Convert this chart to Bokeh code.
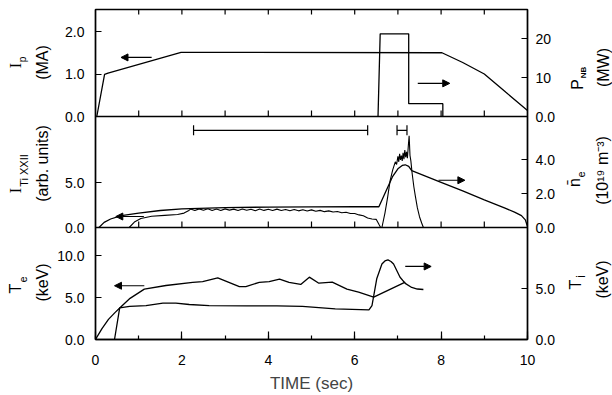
import math
from bokeh.plotting import figure
from bokeh.layouts import row
from bokeh.core.properties import value
from bokeh.models import (Range1d, LinearAxis, FixedTicker, SingleIntervalTicker,
                          Arrow, NormalHead, Whisker, TeeHead, ColumnDataSource, Span)
from bokeh.embed import file_html
from bokeh.resources import INLINE

# ---------------- data ----------------
# Panel 1: plasma current Ip (MA, left) and neutral-beam power P_NB (MW, right)
IP_T = [0.03, 0.21, 0.29, 1.98, 8.02, 8.5, 9.0, 9.13, 9.5, 10.0]
IP_MA = [0.0, 0.99, 1.02, 1.51, 1.50, 1.27, 1.00, 0.89, 0.57, 0.14]
PNB_T = [6.54, 6.59, 7.25, 7.25, 8.04, 8.04]
PNB_MW = [0.0, 21.2, 21.2, 3.3, 3.3, 0.0]

# Panel 2: Ti XXII intensity (arb. units, left) and line density (1e19 m^-3, right)
ITI_T = [0.00, 0.78, 0.90, 1.05, 1.30, 1.60, 1.90, 2.05, 2.15,
         2.2, 2.3, 2.4, 2.5, 2.6, 2.7, 2.8, 2.9, 3.0, 3.1,
         3.2, 3.3, 3.4, 3.5, 3.6, 3.7, 3.8, 3.9, 4.0, 4.1,
         4.2, 4.3, 4.4, 4.5, 4.6, 4.7, 4.8, 4.9, 5.0, 5.1,
         5.2, 5.3, 5.4, 5.5, 5.6, 5.7, 5.8, 5.9, 6.0, 6.1,
         6.2, 6.3,
         6.40, 6.50, 6.56, 6.60, 6.63, 6.70, 6.76, 6.82, 6.88, 6.94,
         6.97, 7.00, 7.02, 7.04, 7.06, 7.08, 7.10, 7.12, 7.14, 7.16,
         7.18, 7.20, 7.22, 7.24, 7.26, 7.28, 7.30, 7.33, 7.37, 7.40,
         7.45, 7.50, 7.55, 7.59]
ITI = [0.0, 0.0, 0.6, 1.0, 1.25, 1.35, 1.45, 1.6, 1.85,
       2.05, 1.88, 2.07, 1.92, 2.08, 1.90, 2.05, 1.89, 2.07, 1.93,
       2.04, 1.88, 2.06, 1.91, 2.03, 1.87, 2.05, 1.90, 2.02, 1.88,
       2.04, 1.89, 2.01, 1.86, 2.00, 1.85, 1.98, 1.84, 1.96, 1.80,
       1.90, 1.76, 1.85, 1.72, 1.78, 1.64, 1.70, 1.56, 1.55, 1.40,
       1.30, 1.05,
       0.95, 0.90, 0.35, 0.0, 0.0, 1.6, 3.3, 5.2, 6.4, 7.3,
       7.0, 7.9, 7.3, 8.2, 7.5, 8.0, 7.4, 8.3, 7.6, 8.6,
       7.8, 8.4, 7.7, 9.0, 10.2, 8.0, 7.4, 6.0, 4.5, 3.6,
       2.2, 1.2, 0.5, 0.0]
NE_T = [0.08, 0.20, 0.35, 0.60, 1.00, 1.50, 2.00, 3.00, 4.00, 5.00, 6.00, 6.56,
        6.88, 7.00, 7.10, 7.17, 7.25, 7.32, 8.00, 8.50, 9.00, 9.48, 9.70, 9.86, 9.95, 10.0]
NE = [0.0, 0.30, 0.50, 0.70, 0.85, 1.00, 1.10, 1.17, 1.20, 1.21, 1.22, 1.22,
      3.01, 3.45, 3.65, 3.69, 3.60, 3.34, 2.66, 2.15, 1.63, 1.14, 0.90, 0.70, 0.45, 0.05]
# measurement time windows drawn at the top of panel 2
WIN_START = [2.27, 6.98]
WIN_END = [6.30, 7.21]
WIN_LEVEL = [10.8, 10.8]

# Panel 3: electron temperature Te (keV, left) and ion temperature Ti (keV, right)
TE_T = [0.0, 0.15, 0.30, 0.45, 0.56, 0.80, 1.13, 1.63, 2.25, 2.48, 2.83, 3.33, 3.48,
        3.79, 4.02, 4.26, 4.48, 4.75, 4.95, 5.17, 5.48, 5.82, 6.09, 6.44, 7.17]
TE = [0.0, 1.3, 2.4, 3.2, 3.76, 4.9, 6.0, 6.43, 6.8, 6.9, 7.34, 6.3, 6.3,
      6.8, 6.9, 7.2, 6.8, 6.55, 7.42, 6.7, 6.83, 6.0, 5.63, 5.04, 6.83]
TION_T = [0.44, 0.56, 0.79, 1.17, 1.56, 1.86, 2.17, 2.63, 3.50, 4.20, 4.79, 5.55, 6.33,
          6.40, 6.51, 6.63, 6.70, 6.77, 6.84, 6.90, 7.05, 7.17, 7.32, 7.45, 7.59]
TION = [0.0, 3.1, 3.24, 3.33, 3.56, 3.56, 3.43, 3.33, 3.30, 3.30, 3.24, 3.00, 2.90,
        3.33, 5.95, 7.40, 7.70, 7.80, 7.65, 7.40, 6.10, 5.50, 5.10, 4.95, 4.90]

# axis ticks and labels
TIME_TICKS_MINOR = [1, 2, 3, 4, 5, 6, 7, 8, 9]
P1L_TICKS, P1L_LABELS = [0, 1, 2], ["0.0", "1.0", "2.0"]
P1R_TICKS, P1R_LABELS = [0, 10, 20], ["0.0", "10", "20"]
P2L_TICKS, P2L_LABELS = [0, 5], ["0.0", "5.0"]
P2R_TICKS, P2R_LABELS = [0, 2, 4], ["0.0", "2.0", "4.0"]
P3L_TICKS, P3L_LABELS = [0, 5, 10], ["0.0", "5.0", "10.0"]
P3R_TICKS, P3R_LABELS = [0, 5], ["0.0", "5.0"]

# ---------------- layout: three stacked panels in one frame ----------------
FONT = "Liberation Sans"
SERIF = "Liberation Serif"
STACK_TOP = 330                      # stack units (bottom-up)
BASE = {"p1": 223, "p2": 112, "p3": 0}
SCALE = {"p1l": 42.5, "p1r": 3.9, "p2l": 9.0, "p2r": 17.0, "p3l": 8.4, "p3r": 10.2}
TOP_B, BOT_B = 9, 56
TOTAL_H = 395


def panel_range(name):
    b = BASE[name[:2]]
    k = SCALE[name]
    return Range1d(start=-b / k, end=(STACK_TOP - b) / k)


def stack_pos(name, v):
    return BASE[name[:2]] + v * SCALE[name]


stack = Range1d(0, STACK_TOP)

p = figure(width=506, height=TOTAL_H, x_range=Range1d(0, 10), y_range=stack,
           output_backend="svg", toolbar_location=None,
           min_border_left=39, min_border_right=33, min_border_top=TOP_B, min_border_bottom=BOT_B)
p.extra_y_ranges = {n: panel_range(n) for n in SCALE}
p.grid.visible = False
p.background_fill_color = "white"
p.border_fill_color = "white"
p.outline_line_color = "black"
p.outline_line_width = 1.4

# bottom axis
xa = p.xaxis[0]
xa.ticker = SingleIntervalTicker(interval=2, num_minor_ticks=2)
xa.major_tick_in = 8
xa.major_tick_out = 0
xa.minor_tick_in = 4
xa.minor_tick_out = 0
xa.axis_line_width = 1.4
xa.major_tick_line_width = 1.2
xa.minor_tick_line_width = 1.2
xa.major_label_text_font = FONT
xa.major_label_text_font_size = "14px"
xa.major_label_text_color = "black"
xa.major_label_standoff = 15
xa.axis_label = "TIME (sec)"
xa.axis_label_text_font = FONT
xa.axis_label_text_font_size = "17px"
xa.axis_label_text_font_style = "normal"
xa.axis_label_standoff = 6


def style_y(ax, ticks, labels, standoff):
    ax.ticker = FixedTicker(ticks=ticks)
    ax.major_label_overrides = dict(zip(ticks, labels))
    ax.major_tick_in = 6
    ax.major_tick_out = 0
    ax.minor_tick_in = 0
    ax.minor_tick_out = 0
    ax.axis_line_width = 1.4
    ax.major_tick_line_width = 1.2
    ax.major_label_text_font = FONT
    ax.major_label_text_font_size = "14px"
    ax.major_label_text_color = "black"
    ax.major_label_standoff = standoff


left_ticks = ([stack_pos("p3l", v) for v in P3L_TICKS] + [stack_pos("p2l", v) for v in P2L_TICKS]
              + [stack_pos("p1l", v) for v in P1L_TICKS])
left_labels = P3L_LABELS + P2L_LABELS + P1L_LABELS
right_ticks = ([stack_pos("p3r", v) for v in P3R_TICKS] + [stack_pos("p2r", v) for v in P2R_TICKS]
               + [stack_pos("p1r", v) for v in P1R_TICKS])
right_labels = P3R_LABELS + P2R_LABELS + P1R_LABELS

style_y(p.yaxis[0], left_ticks, left_labels, 11)
ra = LinearAxis()
style_y(ra, right_ticks, right_labels, 8)
p.add_layout(ra, "right")

# panel separators and their ticks
for b in (BASE["p2"], BASE["p1"]):
    p.add_layout(Span(location=b, dimension="width", line_color="black", line_width=1.4))
    p.segment(x0=TIME_TICKS_MINOR, y0=[b] * 9, x1=TIME_TICKS_MINOR, y1=[b + 6] * 9,
              line_color="black", line_width=1.2)
p.segment(x0=TIME_TICKS_MINOR, y0=[STACK_TOP] * 9, x1=TIME_TICKS_MINOR, y1=[STACK_TOP - 5] * 9,
          line_color="black", line_width=1.2)

# ---------------- curves ----------------
LW = 1.3
p.line(IP_T, IP_MA, y_range_name="p1l", line_color="black", line_width=LW)
p.line(PNB_T, PNB_MW, y_range_name="p1r", line_color="black", line_width=LW)
p.line(ITI_T, ITI, y_range_name="p2l", line_color="black", line_width=1.1)
p.line(NE_T, NE, y_range_name="p2r", line_color="black", line_width=LW)
p.line(TE_T, TE, y_range_name="p3l", line_color="black", line_width=LW)
p.line(TION_T, TION, y_range_name="p3r", line_color="black", line_width=LW)

win_src = ColumnDataSource(dict(base=WIN_LEVEL, lower=WIN_START, upper=WIN_END))
p.add_layout(Whisker(source=win_src, base="base", lower="lower", upper="upper",
                     dimension="width", y_range_name="p2l", line_color="black", line_width=1.2,
                     lower_head=TeeHead(size=10, line_width=1.2, line_color="black"),
                     upper_head=TeeHead(size=10, line_width=1.2, line_color="black")))

# arrows: which axis each curve belongs to
ARROWS = [("p1l", 1.30, 0.59, 1.39), ("p1r", 7.46, 8.20, 8.5),
          ("p2l", 1.12, 0.47, 1.22), ("p2r", 7.94, 8.55, 2.78),
          ("p3l", 1.13, 0.44, 6.4), ("p3r", 7.17, 7.77, 7.16)]
for rn, t0, t1, yv in ARROWS:
    p.add_layout(Arrow(end=NormalHead(size=7, fill_color="black", line_color="black", line_width=1),
                       x_start=t0, y_start=yv, x_end=t1, y_end=yv, y_range_name=rn,
                       line_color="black", line_width=1.2))


# ---------------- side strips carrying the rotated axis titles ----------------
def side_fig(w):
    f = figure(width=w, height=TOTAL_H, x_range=Range1d(0, w), y_range=stack,
               output_backend="svg", toolbar_location=None,
               x_axis_location=None, y_axis_location=None,
               min_border_left=0, min_border_right=0, min_border_top=TOP_B, min_border_bottom=BOT_B)
    f.grid.visible = False
    f.outline_line_color = None
    f.background_fill_color = "white"
    f.border_fill_color = "white"
    return f


def vtext(f, txt, x, y, size="16px", style="normal", font=FONT):
    f.text(x=[x], y=[y], text=[txt], angle=math.pi / 2, text_align="center",
           text_baseline="middle", text_font=value(font), text_font_size=size,
           text_font_style=style, text_color="black")


lf = side_fig(54)
vtext(lf, "I", 15, 274, "16px", font=SERIF)
vtext(lf, "p", 22, 280, "10px")
vtext(lf, "(MA)", 42, 277)
vtext(lf, "I", 15, 149, "16px", font=SERIF)
vtext(lf, "Ti XXII", 23, 169, "11px")
vtext(lf, "(arb. units)", 42, 176)
vtext(lf, "T", 15, 51)
vtext(lf, "e", 22, 60, "11px")
vtext(lf, "(keV)", 42, 57)

rf = side_fig(52)
vtext(rf, "P", 17, 255)
vtext(rf, "NB", 23, 267, "8px", "bold")
vtext(rf, "(MW)", 43, 272)
vtext(rf, "n\u0304", 14, 157)
vtext(rf, "e", 20, 165, "11px")
vtext(rf, "(10\u00b9\u2079 m\u207b\u00b3)", 41.5, 169)
vtext(rf, "T", 15, 55)
vtext(rf, "i", 20.5, 63, "12px")
vtext(rf, "(keV)", 41.5, 60)

layout = row(lf, p, rf)
open("out.html", "w").write(file_html(layout, INLINE))
